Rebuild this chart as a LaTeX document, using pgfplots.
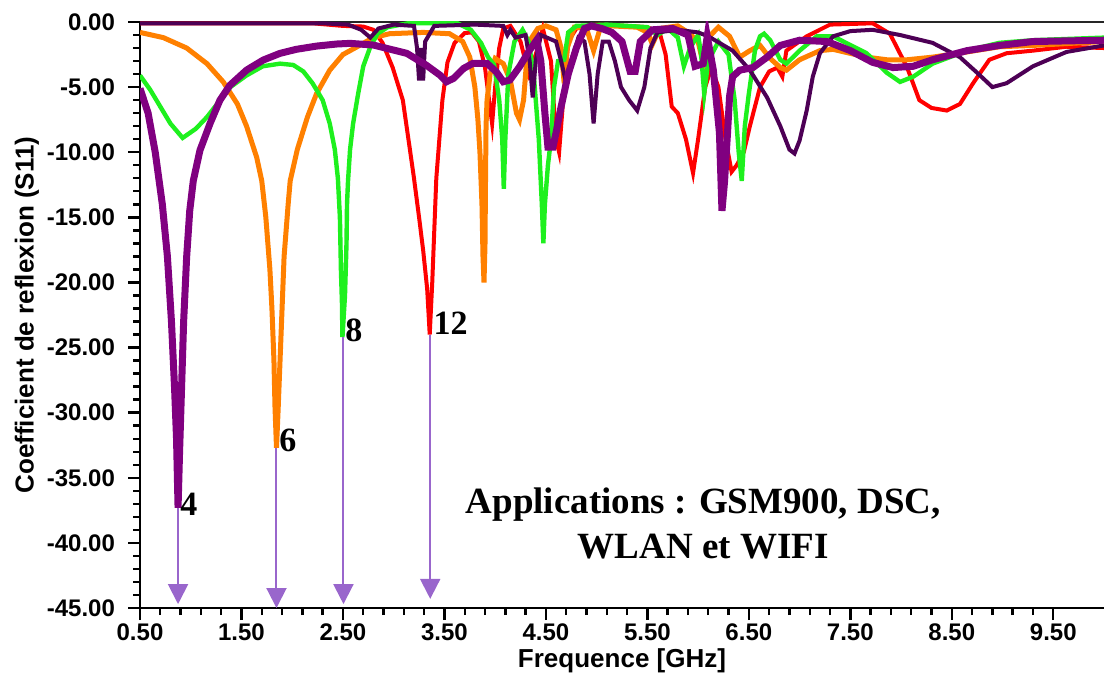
\documentclass[border=0pt]{standalone}
\usepackage{fontspec}
\setmainfont{Liberation Sans}
\newfontfamily\tnr{Liberation Serif}
\usepackage{pgfplots}
\pgfplotsset{compat=1.18}
\usetikzlibrary{arrows.meta}
\definecolor{cred}{HTML}{FF0000}
\definecolor{corange}{HTML}{FF8000}
\definecolor{cgreen}{HTML}{1EF01E}
\definecolor{cpurple}{HTML}{800080}
\definecolor{cdark}{HTML}{4D0055}
\definecolor{carrow}{HTML}{9966CC}
\begin{document}
\begin{tikzpicture}
\begin{axis}[
  scale only axis, width=482pt, height=293pt,
  xmin=0.5, xmax=10, ymin=-45, ymax=0,
  axis x line=bottom, axis y line=left,
  axis line style={-, black, line width=1.2pt},
  tick align=outside, major tick length=6pt, minor tick length=3.5pt,
  tick style={black, line width=1.2pt},
  xtick={0.5,1.5,...,9.5}, minor x tick num=4,
  ytick={-45,-40,...,0}, minor y tick num=4,
  /pgf/number format/assume math mode=true,
  /pgf/number format/.cd, fixed, fixed zerofill, precision=2, /pgfplots/.cd,
  ticklabel style={font=\fontsize{12}{14}\selectfont\bfseries},
  xticklabel style={yshift=1.5pt},
  yticklabel style={xshift=-3pt},
  xlabel={Frequence [GHz]}, ylabel={Coefficient de reflexion (S11)},
  every axis x label/.style={at={(axis description cs:0.5,0)}, yshift=-26.5pt, anchor=center, font=\fontsize{13}{15}\selectfont\bfseries},
  every axis y label/.style={at={(axis description cs:0,0.5)}, xshift=-56.5pt, rotate=90, anchor=center, font=\fontsize{13}{15}\selectfont\bfseries},
  clip mode=individual,
]
\coordinate (bl) at (rel axis cs:0,0);
\coordinate (tr) at (rel axis cs:1,1);
\draw[black!85, line width=1.1pt] (axis cs:0.5,0) -- (axis cs:10,0);
% red
\addplot[cred, line width=2pt] coordinates {
(0.5,-0.1)(2.2,-0.1)(2.5,-0.3)(2.7,-0.35)(2.80,-0.6)(2.89,-1.6)(2.99,-3.5)(3.09,-6.0)(3.16,-9.8)(3.20,-12)(3.25,-15)(3.29,-17.5)(3.33,-20.5)(3.355,-24)(3.38,-20)(3.40,-16)(3.42,-12)(3.45,-9)(3.48,-6)(3.53,-3.1)(3.60,-1.6)(3.70,-0.85)(3.77,-0.8)(3.84,-1.5)(3.90,-3.5)(3.94,-6)(3.97,-7.8)(4.00,-5)(4.04,-2)(4.08,-0.5)(4.15,-0.3)(4.25,-1.5)(4.33,-4)(4.40,-2.5)(4.47,-0.5)(4.55,-3)(4.60,-9)(4.63,-10)(4.67,-6)(4.72,-1.5)(4.8,-0.5)(4.9,-0.3)(5.0,-0.2)(5.3,-0.3)(5.5,-0.4)(5.62,-0.8)(5.68,-2.5)(5.74,-6.5)(5.8,-7)(5.88,-9)(5.95,-11.6)(6.0,-9)(6.07,-5)(6.13,-3.5)(6.2,-5)(6.27,-9)(6.33,-11.5)(6.38,-11)(6.45,-10)(6.51,-8)(6.61,-5)(6.70,-3.8)(6.78,-3.5)(6.83,-4.2)(6.87,-2.2)(7.07,-1.1)(7.30,-0.2)(7.72,-0.1)(7.89,-0.9)(8.06,-3.5)(8.18,-6)(8.30,-6.6)(8.45,-6.8)(8.58,-6.3)(8.71,-4.7)(8.87,-2.9)(9.04,-2.4)(9.30,-2.2)(9.63,-1.9)(10,-2.0)
};
% orange
\addplot[corange, line width=2.5pt] coordinates {
(0.5,-0.8)(0.73,-1.2)(0.96,-2.0)(1.16,-3.2)(1.32,-4.6)(1.46,-6.3)(1.55,-8.0)(1.65,-10.4)(1.70,-12.2)(1.74,-15)(1.78,-19)(1.80,-22)(1.82,-26)(1.83,-29.5)(1.845,-32.7)(1.86,-30)(1.88,-26)(1.90,-22)(1.92,-18)(1.96,-14)(1.98,-12.2)(2.05,-9.8)(2.15,-7.3)(2.24,-5.5)(2.37,-3.7)(2.50,-2.5)(2.64,-1.9)(2.80,-1.2)(2.96,-0.9)(3.29,-0.8)(3.55,-0.9)(3.68,-1.5)(3.75,-2.7)(3.80,-5)(3.83,-7.5)(3.85,-10)(3.87,-14)(3.88,-18)(3.89,-20)(3.90,-17)(3.905,-12)(3.91,-8)(3.92,-6)(3.95,-4)(4.00,-2.8)(4.08,-3.2)(4.15,-4.5)(4.21,-7)(4.24,-7.5)(4.28,-6)(4.31,-3)(4.36,-1.2)(4.42,-0.5)(4.5,-0.3)(4.6,-0.6)(4.65,-2)(4.68,-4.7)(4.71,-2)(4.78,-0.4)(4.9,-0.5)(4.97,-2.2)(5.03,-0.6)(5.15,-0.3)(5.4,-0.4)(5.5,-0.8)(5.55,-1.7)(5.62,-0.5)(5.8,-0.3)(5.9,-0.8)(6.0,-1.5)(6.05,-3.2)(6.1,-1.2)(6.2,-0.4)(6.31,-1.1)(6.41,-2.7)(6.51,-2.2)(6.61,-1.8)(6.71,-2.8)(6.81,-3.5)(6.87,-3.7)(7.0,-2.9)(7.2,-2.2)(7.33,-2.1)(7.66,-2.7)(7.86,-2.9)(8.06,-2.9)(8.31,-2.7)(8.65,-2.3)(8.97,-1.9)(9.30,-1.8)(10,-1.5)
};
% green
\addplot[cgreen, line width=2.2pt] coordinates {
(0.5,-4.1)(0.6,-5.2)(0.7,-6.5)(0.8,-7.8)(0.92,-8.9)(1.05,-8.2)(1.16,-7.3)(1.39,-5.0)(1.55,-4.1)(1.71,-3.4)(1.88,-3.2)(2.01,-3.3)(2.11,-3.8)(2.20,-4.7)(2.30,-6.0)(2.37,-7.8)(2.42,-9.8)(2.45,-12)(2.47,-15)(2.48,-19)(2.49,-21.5)(2.495,-24.2)(2.52,-21)(2.535,-17)(2.54,-14)(2.55,-12.2)(2.57,-9.8)(2.60,-7.8)(2.65,-5.5)(2.70,-3.4)(2.77,-1.9)(2.84,-0.9)(2.94,-0.4)(3.14,-0.1)(3.63,-0.1)(3.76,-0.6)(3.86,-1.6)(3.93,-2.7)(3.99,-3.3)(4.04,-6)(4.07,-9)(4.085,-12.8)(4.10,-9)(4.13,-4)(4.19,-1.5)(4.27,-0.6)(4.33,-1.5)(4.38,-4)(4.43,-9)(4.46,-14)(4.475,-17)(4.49,-14)(4.52,-11)(4.55,-9)(4.58,-5)(4.62,-3)(4.68,-2.9)(4.72,-0.8)(4.8,-0.3)(5.1,-0.2)(5.5,-0.4)(5.6,-1)(5.7,-0.5)(5.8,-1.2)(5.86,-3.4)(5.92,-2)(6.0,-1)(6.03,-2.5)(6.06,-5.5)(6.1,-3)(6.2,-1.5)(6.3,-2.5)(6.36,-6)(6.40,-10)(6.43,-12.2)(6.46,-8)(6.50,-5.5)(6.56,-2.2)(6.61,-1.1)(6.65,-0.9)(6.71,-1.4)(6.81,-2.9)(6.87,-3.2)(7.0,-2.2)(7.17,-1.1)(7.33,-1.1)(7.66,-2.4)(7.86,-3.9)(7.99,-4.6)(8.12,-4.2)(8.31,-3.2)(8.65,-2.2)(8.97,-1.6)(9.30,-1.4)(10,-1.2)
};
% dark purple
\addplot[cdark, line width=2pt] coordinates {
(0.5,-0.1)(2.3,-0.1)(2.55,-0.2)(2.68,-0.6)(2.77,-1.2)(2.85,-0.5)(3.0,-0.2)(3.2,-0.3)(3.23,-2)(3.25,-4.5)(3.27,-2)(3.29,-4.5)(3.31,-1.5)(3.4,-0.3)(3.8,-0.2)(4.08,-0.3)(4.12,-1)(4.15,-0.6)(4.2,-1.2)(4.3,-1)(4.34,-3)(4.37,-5.8)(4.40,-3)(4.45,-1)(4.6,-1.5)(4.65,-3)(4.7,-4.7)(4.75,-3)(4.82,-1.2)(4.88,-1.5)(4.93,-4)(4.97,-7.8)(5.01,-4)(5.06,-1.5)(5.12,-1.5)(5.18,-3)(5.24,-5)(5.32,-6)(5.40,-6.8)(5.47,-5)(5.53,-2)(5.6,-0.8)(5.8,-0.6)(6.0,-0.8)(6.1,-1.1)(6.34,-2.2)(6.51,-3.7)(6.68,-5.8)(6.81,-8)(6.90,-9.8)(6.95,-10.1)(7.0,-9.1)(7.07,-6.8)(7.13,-4.2)(7.2,-2.4)(7.33,-1.1)(7.5,-0.7)(7.72,-0.6)(7.99,-1.0)(8.31,-1.6)(8.58,-2.7)(8.75,-3.9)(8.90,-5.0)(9.04,-4.7)(9.30,-3.4)(9.63,-2.3)(10,-1.8)
};
% thick purple
\addplot[cpurple, line width=3.5pt] coordinates {
(0.5,-5.1)(0.58,-7)(0.65,-10)(0.72,-14)(0.77,-18)(0.81,-23)(0.84,-28)(0.86,-32)(0.875,-37.3)(0.89,-33)(0.91,-28)(0.93,-23)(0.96,-18)(0.99,-14.5)(1.025,-12.2)(1.091,-9.85)(1.19,-7.8)(1.288,-6.0)(1.387,-4.85)(1.551,-3.69)(1.715,-2.92)(1.879,-2.41)(2.04,-2.1)(2.24,-1.85)(2.44,-1.69)(2.57,-1.64)(2.80,-1.77)(3.13,-2.41)(3.32,-3.31)(3.456,-4.08)(3.52,-4.59)(3.59,-4.33)(3.69,-3.56)(3.78,-3.18)(3.92,-3.18)(4.01,-3.82)(4.08,-4.59)(4.145,-4.46)(4.24,-3.44)(4.34,-2.15)(4.41,-1.38)(4.45,-3)(4.49,-7)(4.52,-9.6)(4.57,-9.6)(4.60,-8.5)(4.65,-6.5)(4.72,-4)(4.80,-2)(4.88,-0.5)(4.95,-0.3)(5.05,-0.5)(5.15,-0.8)(5.25,-1.5)(5.33,-3.8)(5.38,-3.8)(5.43,-1.5)(5.55,-0.6)(5.75,-0.5)(5.9,-1)(5.97,-3.4)(6.05,-3.2)(6.09,-1.1)(6.15,-3.7)(6.21,-8.5)(6.235,-14.5)(6.26,-12.3)(6.29,-8.5)(6.31,-5.7)(6.34,-4.2)(6.41,-3.7)(6.54,-3.5)(6.68,-2.7)(6.81,-1.8)(7.0,-1.4)(7.27,-1.5)(7.5,-2.2)(7.72,-3.1)(7.92,-3.5)(8.12,-3.4)(8.31,-2.9)(8.65,-2.2)(8.97,-1.8)(9.30,-1.5)(10,-1.4)
};
% arrows
\draw[carrow, line width=1pt, -{Triangle[width=10pt,length=10pt]}] (axis cs:0.875,-37.3) -- (axis cs:0.875,-44.7);
\draw[carrow, line width=1pt, -{Triangle[width=10pt,length=10pt]}] (axis cs:1.845,-32.7) -- (axis cs:1.845,-45);
\draw[carrow, line width=1pt, -{Triangle[width=10pt,length=10pt]}] (axis cs:2.505,-24.2) -- (axis cs:2.505,-44.7);
\draw[carrow, line width=1pt, -{Triangle[width=10pt,length=10pt]}] (axis cs:3.36,-24) -- (axis cs:3.36,-44.3);
% labels
\node[anchor=west, inner sep=0pt, font=\tnr\bfseries\fontsize{17}{20}\selectfont] at (axis cs:0.894,-37.0) {4};
\node[anchor=west, inner sep=0pt, font=\tnr\bfseries\fontsize{17}{20}\selectfont] at (axis cs:1.87,-32.15) {6};
\node[anchor=west, inner sep=0pt, font=\tnr\bfseries\fontsize{17}{20}\selectfont] at (axis cs:2.52,-23.7) {8};
\node[anchor=west, inner sep=0pt, font=\tnr\bfseries\fontsize{17}{20}\selectfont] at (axis cs:3.39,-23.15) {12};
\node[align=center, inner sep=0pt, font=\tnr\bfseries\fontsize{18.5}{22.5}\selectfont] at (axis cs:6.05,-38.5) {Applications : GSM900, DSC,\\WLAN et WIFI};
\end{axis}
\pgfresetboundingbox
\useasboundingbox ([xshift=-70pt,yshift=-32.5pt]bl) rectangle ([yshift=11pt]tr);
\end{tikzpicture}
\end{document}
